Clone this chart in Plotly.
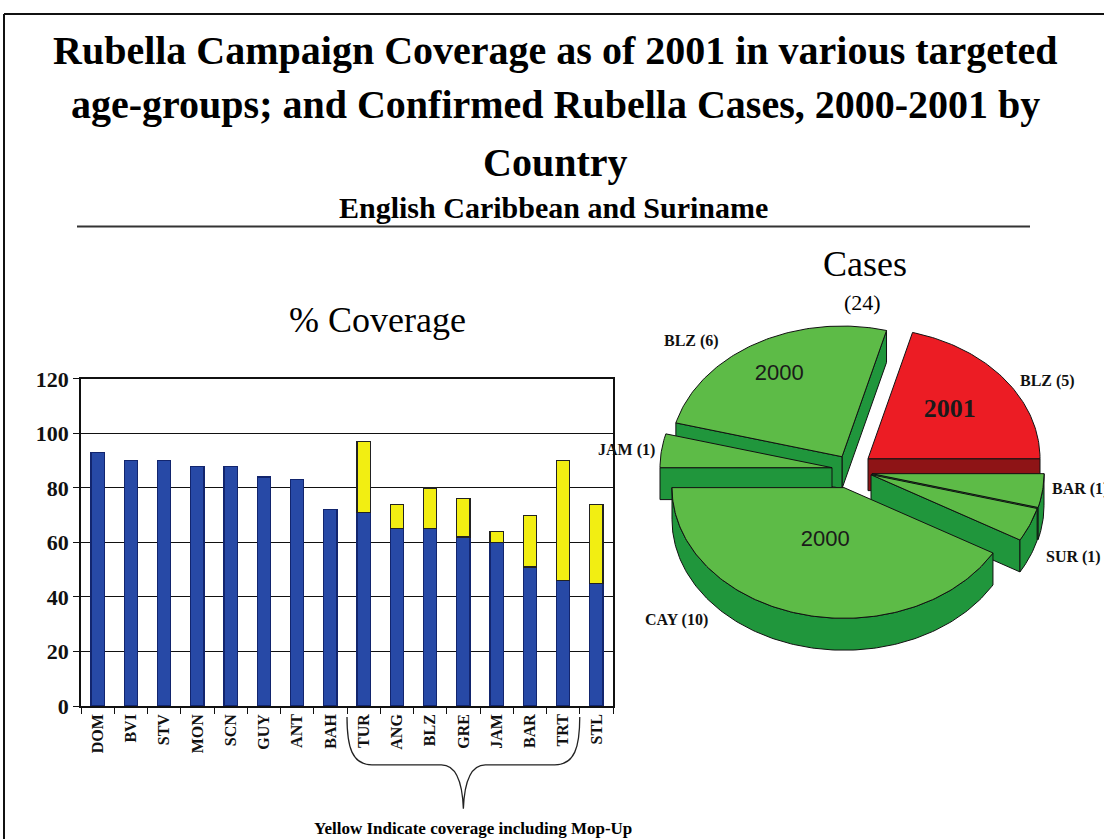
import math
import plotly.graph_objects as go

# ---------------- data ----------------
countries = ["DOM", "BVI", "STV", "MON", "SCN", "GUY", "ANT", "BAH",
             "TUR", "ANG", "BLZ", "GRE", "JAM", "BAR", "TRT", "STL"]
coverage_base = [93, 90, 90, 88, 88, 84, 83, 72,
                 71, 65, 65, 62, 60, 51, 46, 45]
# coverage including mop-up (None where no mop-up campaign)
coverage_mopup = [None, None, None, None, None, None, None, None,
                  97, 74, 80, 76, 64, 70, 90, 74]
y_ticks = [0, 20, 40, 60, 80, 100, 120]

case_countries = ["BLZ", "BAR", "SUR", "CAY", "JAM", "BLZ"]
case_counts = [5, 1, 1, 10, 1, 6]
case_years = ["2001", "2000", "2000", "2000", "2000", "2000"]
total_cases = sum(case_counts)

# ---------------- page geometry ----------------
W, H = 1104, 839
SERIF = "Liberation Serif, Times New Roman, serif"
SANS = "Liberation Sans, Arial, sans-serif"
# vertical page grid: pixel rows mapped onto the paper
Y_OFF, Y_SCALE = 9.0, 0.973


def px(x):
    return x / W


def py(y):
    return 1 - (y - Y_OFF) / (Y_SCALE * H)


fig = go.Figure()

# ---------------- stacked coverage bars ----------------
mopup_extra = [None if m is None else m - b for b, m in zip(coverage_base, coverage_mopup)]

fig.add_trace(go.Bar(
    x=countries, y=coverage_base, width=0.4,
    marker=dict(color="#2749A6", line=dict(color="#12256E", width=1.2)),
    xaxis="x", yaxis="y", showlegend=False, name="Coverage",
))
fig.add_trace(go.Bar(
    x=countries, y=mopup_extra, width=0.4,
    marker=dict(color="#F2EE12", line=dict(color="#222222", width=1.2)),
    xaxis="x", yaxis="y", showlegend=False, name="Mop-Up",
))

# ---------------- 3D exploded pie ----------------
PIE_CX, PIE_CY = 856, 470       # pie centre (page pixels)
PIE_R = 172                     # horizontal radius
PIE_TILT = 0.762                # vertical squash of the tilted disc
PIE_DEPTH = 32                  # disc thickness
START_ANGLE = 75                # first slice edge, degrees, clockwise layout
# explode offsets per slice (dx, dy in pixels)
explode = [(12, -13), (16, 2), (15, 3), (-12, 16), (-24, -4), (-14, -15)]
top_colors = ["#EC1C24", "#5DBB47", "#5DBB47", "#5DBB47", "#5DBB47", "#5DBB47"]
side_colors = ["#8E1416", "#20963C", "#20963C", "#20963C", "#20963C", "#20963C"]
inner_label_radius = [0.6, None, None, 0.42, None, 0.73]
outer_label_pos = [(1020, 380), (1052, 488), (1046, 557), (645, 620), (598, 449), (664, 340)]

slices = []
edge = START_ANGLE
for i, v in enumerate(case_counts):
    sweep = v / total_cases * 360.0
    a2 = edge
    a1 = edge - sweep
    edge = a1
    ax = PIE_CX + explode[i][0]
    ay = PIE_CY + explode[i][1]
    slices.append(dict(i=i, a1=a1, a2=a2, ax=ax, ay=ay, mid=(a1 + a2) / 2))


def rim(s, a, drop=0.0):
    r = math.radians(a)
    return (s["ax"] + PIE_R * math.cos(r), s["ay"] - PIE_R * PIE_TILT * math.sin(r) + drop)


def arc(a_from, a_to):
    n = max(2, int(abs(a_to - a_from)) + 1)
    return [a_from + (a_to - a_from) * k / (n - 1) for k in range(n)]


def poly(points, fill, line="#111111"):
    xs = [p[0] for p in points] + [points[0][0]]
    ys = [p[1] for p in points] + [points[0][1]]
    return go.Scatter(x=xs, y=ys, mode="lines", fill="toself", fillcolor=fill,
                      line=dict(color=line, width=1), xaxis="x2", yaxis="y2",
                      hoverinfo="skip", showlegend=False)


# outer labels first, so the slices sit on top of them
for i, s in enumerate(slices):
    lx, ly = outer_label_pos[i]
    fig.add_trace(go.Scatter(
        x=[lx], y=[ly], mode="text", text=[f"{case_countries[i]} ({case_counts[i]})"],
        textposition="middle right", cliponaxis=False,
        textfont=dict(family=SERIF, size=16, color="#111111", weight="bold"),
        xaxis="x2", yaxis="y2", hoverinfo="skip", showlegend=False,
    ))

# paint back-to-front
for s in sorted(slices, key=lambda s: -math.sin(math.radians(s["mid"]))):
    i = s["i"]
    apex = (s["ax"], s["ay"])
    apex_low = (s["ax"], s["ay"] + PIE_DEPTH)
    # radial cut faces that face the viewer
    if math.cos(math.radians(s["a1"])) > 1e-9:
        p = rim(s, s["a1"])
        fig.add_trace(poly([apex, p, (p[0], p[1] + PIE_DEPTH), apex_low], side_colors[i]))
    if math.cos(math.radians(s["a2"])) < -1e-9:
        p = rim(s, s["a2"])
        fig.add_trace(poly([apex, p, (p[0], p[1] + PIE_DEPTH), apex_low], side_colors[i]))
    # outer wall on the front half of the disc
    vis = [a for a in arc(s["a1"], s["a2"]) if math.sin(math.radians(a)) <= 1e-9]
    if len(vis) >= 2:
        top = [rim(s, a) for a in vis]
        bot = [rim(s, a, PIE_DEPTH) for a in reversed(vis)]
        fig.add_trace(poly(top + bot, side_colors[i]))
    # top face
    fig.add_trace(poly([apex] + [rim(s, a) for a in arc(s["a2"], s["a1"])], top_colors[i]))

# year labels on the larger slices
for s in slices:
    i = s["i"]
    f = inner_label_radius[i]
    if f is None:
        continue
    r = math.radians(s["mid"])
    lx = s["ax"] + f * PIE_R * math.cos(r)
    ly = s["ay"] - f * PIE_R * PIE_TILT * math.sin(r)
    bold = case_years[i] == "2001"
    fig.add_trace(go.Scatter(
        x=[lx], y=[ly], mode="text", text=[case_years[i]], textposition="middle center",
        textfont=dict(family=SERIF if bold else SANS, size=26 if bold else 22,
                      color="#1a1a1a", weight="bold" if bold else "normal"),
        xaxis="x2", yaxis="y2", hoverinfo="skip", showlegend=False,
    ))

# ---------------- annotations ----------------
ann = []


def text(x, y, s, size, bold=False, family=SERIF):
    ann.append(dict(x=px(x), y=py(y), xref="paper", yref="paper", text=s, showarrow=False,
                    xanchor="center", yanchor="middle",
                    font=dict(family=family, size=size, color="#000000",
                              weight="bold" if bold else "normal")))


text(555, 48, "Rubella Campaign Coverage as of 2001 in various targeted", 40, True)
text(555, 102, "age-groups; and Confirmed Rubella Cases, 2000-2001 by", 40, True)
text(555, 160, "Country", 40, True)
text(553, 205, "English Caribbean and Suriname", 30, True)
text(377, 318, "% Coverage", 36)
text(865, 262, "Cases", 36)
text(862, 300, f"({total_cases})", 22)
text(473, 828, "Yellow Indicate coverage including Mop-Up", 17, True)

# ---------------- shapes: frame, rule, brace ----------------
shapes = [
    dict(type="line", xref="paper", yref="paper", x0=px(4), x1=px(1110), y0=py(11), y1=py(11),
         line=dict(color="#111111", width=2)),
    dict(type="line", xref="paper", yref="paper", x0=px(4), x1=px(4), y0=py(11), y1=py(860),
         line=dict(color="#111111", width=2)),
    dict(type="line", xref="paper", yref="paper", x0=px(77), x1=px(1030), y0=py(224), y1=py(224),
         line=dict(color="#333333", width=2)),
]

# curly brace under the mop-up countries (between category boundaries)
AX_L, AX_R = 81, 613
slot = (AX_R - AX_L) / len(countries)
first_mop = next(i for i, m in enumerate(coverage_mopup) if m is not None)
last_mop = max(i for i, m in enumerate(coverage_mopup[:-1]) if m is not None)
bl = AX_L + first_mop * slot
br = AX_L + (last_mop + 1) * slot
bm = (bl + br) / 2
y0b, y1b, ytip = 716, 764, 808


def P(x, y):
    return f"{px(x):.5f},{py(y):.5f}"


brace = (f"M {P(bl, y0b)} C {P(bl, 746)} {P(bl + 5, y1b)} {P(bl + 25, y1b)} "
         f"L {P(bm - 22, y1b)} C {P(bm - 8, y1b)} {P(bm - 1, 781)} {P(bm, ytip)} "
         f"C {P(bm + 1, 781)} {P(bm + 8, y1b)} {P(bm + 22, y1b)} "
         f"L {P(br - 25, y1b)} C {P(br - 5, y1b)} {P(br, 746)} {P(br, y0b)}")
shapes.append(dict(type="path", xref="paper", yref="paper", path=brace,
                   line=dict(color="#222222", width=1.3)))

PIE_X0 = 585
fig.update_layout(
    width=W, height=H,
    margin=dict(l=0, r=0, t=0, b=0),
    paper_bgcolor="white", plot_bgcolor="rgba(0,0,0,0)",
    barmode="stack",
    annotations=ann, shapes=shapes,
    xaxis=dict(domain=[px(AX_L), px(AX_R)], type="category", categoryorder="array",
               categoryarray=countries, tickangle=-90, ticks="outside", tickson="boundaries",
               ticklen=6, tickcolor="#111111", showline=True, linecolor="#111111", linewidth=1.5,
               mirror=True, showgrid=False, fixedrange=True,
               tickfont=dict(family=SERIF, size=16, color="#111111", weight="bold")),
    yaxis=dict(domain=[py(705), py(377)], range=[0, 120], tickvals=y_ticks, ticks="outside",
               ticklen=6, tickcolor="#111111", showline=True, linecolor="#111111", linewidth=1.5,
               mirror=True, showgrid=True, gridcolor="#111111", gridwidth=1.2, zeroline=False,
               fixedrange=True,
               tickfont=dict(family=SERIF, size=22, color="#111111", weight="bold")),
    xaxis2=dict(domain=[px(PIE_X0), 1.0], range=[PIE_X0, 1104], visible=False, fixedrange=True),
    yaxis2=dict(domain=[py(700), py(230)], range=[700, 230], visible=False, fixedrange=True),
)

fig.write_html("out.html")
